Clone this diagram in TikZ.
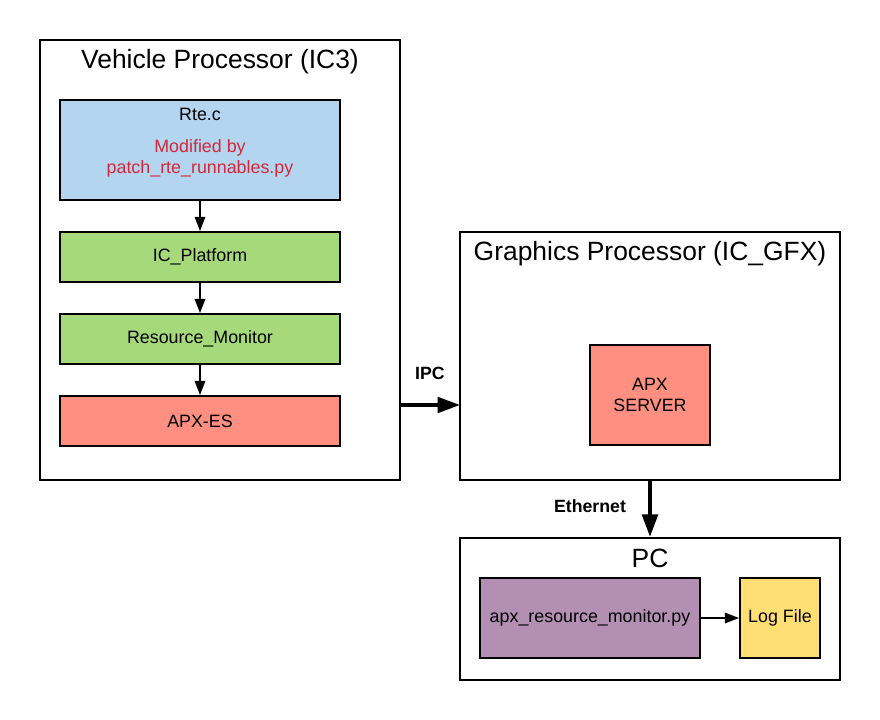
\documentclass[tikz,border=0pt]{standalone}
\usepackage{fontspec}
\setmainfont{Liberation Sans}
\usetikzlibrary{arrows.meta}

\definecolor{rteblue}{HTML}{B3D5EF}
\definecolor{swgreen}{HTML}{A5D97A}
\definecolor{apxred}{HTML}{FF8F80}
\definecolor{pypurple}{HTML}{B38FB4}
\definecolor{logyellow}{HTML}{FFDF73}
\definecolor{notered}{HTML}{D4283A}

\tikzset{
  frame/.style={draw, line width=1.4pt, fill=white, inner sep=0pt},
  swtext/.style={align=center, font=\fontsize{12.7}{15}\selectfont},
  swbox/.style={swtext, draw, line width=1.4pt, inner sep=0pt},
  title/.style={font=\fontsize{18.8}{22}\selectfont},
  flow/.style={line width=1.1pt, -{Triangle[length=10pt, width=7.5pt]}},
  link/.style={line width=2.8pt, -{Triangle[length=16pt, width=11pt]}},
  linklabel/.style={font=\bfseries\fontsize{12.6}{15}\selectfont}
}

\begin{document}
\begin{tikzpicture}[x=0.025cm, y=-0.025cm]
  \useasboundingbox (0,0) rectangle (880,720);

  % vehicle processor
  \node[frame, minimum width=9cm, minimum height=11cm] (ic3) at (220,260) {};
  \node[title] (ic3title) at (220,62) {Vehicle Processor (IC3)};
  \node[swbox, fill=rteblue, minimum width=7cm, minimum height=2.5cm] (rte) at (200,150) {};
  \node[swtext] (rtename) at (200,114) {Rte.c};
  \node[swtext, text=notered] (rtenote) at (200,158) {Modified by\\patch\_rte\_runnables.py};
  \node[swbox, fill=swgreen, minimum width=7cm, minimum height=1.25cm] (platform) at (200,257) {IC\_Platform};
  \node[swbox, fill=swgreen, minimum width=7cm, minimum height=1.25cm] (monitor) at (200,339) {Resource\_Monitor};
  \node[swbox, fill=apxred, minimum width=7cm, minimum height=1.25cm] (apxes) at (200,421) {APX-ES};

  \draw[flow] (rte) -- (platform);
  \draw[flow] (platform) -- (monitor);
  \draw[flow] (monitor) -- (apxes);

  % graphics processor
  \node[frame, minimum width=9.5cm, minimum height=6.2cm] (gfx) at (650,356) {};
  \node[title] (gfxtitle) at (650,254) {Graphics Processor (IC\_GFX)};
  \node[swbox, fill=apxred, minimum width=3cm, minimum height=2.5cm] (server) at (650,395) {APX\\SERVER};

  % pc
  \node[frame, minimum width=9.5cm, minimum height=3.55cm] (pc) at (650,609) {};
  \node[title] (pctitle) at (650,558) {PC};
  \node[swbox, fill=pypurple, minimum width=5.5cm, minimum height=2cm] (script) at (590,618) {apx\_resource\_monitor.py};
  \node[swbox, fill=logyellow, minimum width=2cm, minimum height=2cm] (logfile) at (780,618) {Log File};

  \draw[flow] (script) -- (logfile);

  % links
  \coordinate (ipcfrom) at (400,405);
  \coordinate (ipcto) at (460,405);
  \draw[link] (ipcfrom) -- (ipcto);
  \node[linklabel] (ipc) at (430,373) {IPC};
  \draw[link] (gfx.south) -- (pc.north);
  \node[linklabel] (eth) at (590,506) {Ethernet};
\end{tikzpicture}
\end{document}
